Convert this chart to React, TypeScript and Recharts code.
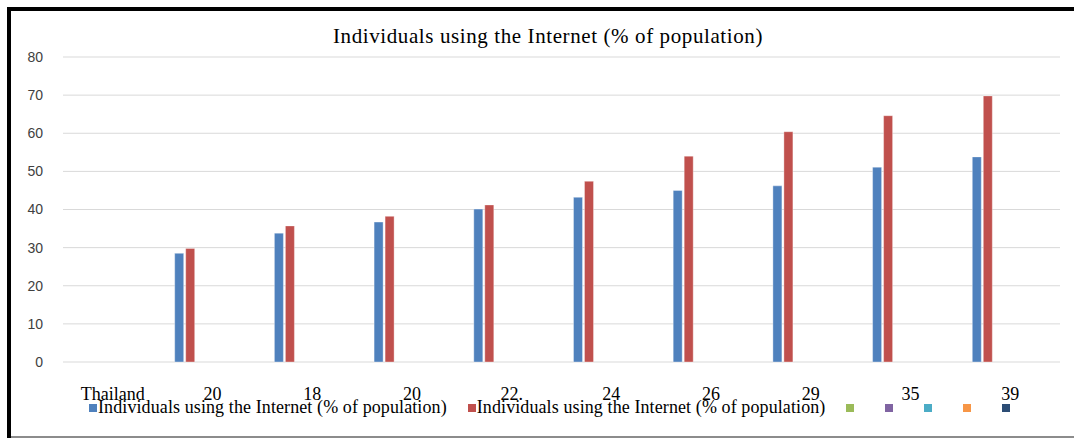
import { BarChart, Bar, XAxis, YAxis, CartesianGrid, Legend } from "recharts";

const categories = ["Thailand", "20", "18", "20", "22.", "24", "26", "29", "35", "39"];

const seriesA = [null, 28.5, 33.8, 36.7, 40.1, 43.2, 45.0, 46.2, 51.1, 53.8];
const seriesB = [null, 29.8, 35.7, 38.2, 41.2, 47.4, 54.0, 60.4, 64.6, 69.8];

const seriesNames = [
  "Individuals using the Internet (% of population)",
  "Individuals using the Internet (% of population)",
  "",
  "",
  "",
  "",
  "",
];

const colors = ["#4F81BD", "#C0504D", "#9BBB59", "#8064A2", "#4BACC6", "#F79646", "#2C4D75"];

const yTicks = [0, 10, 20, 30, 40, 50, 60, 70, 80];

const chartData = categories.map((label, i) => ({
  label,
  s0: seriesA[i],
  s1: seriesB[i],
}));

const serif = "'Liberation Serif', 'Times New Roman', serif";

const LegendRow = () => (
  <div style={{ display: "flex", alignItems: "center", fontFamily: serif, fontSize: 18, color: "#000", letterSpacing: 0.1 }}>
    {seriesNames.map((name, i) => (
      <div key={i} style={{ display: "flex", alignItems: "center", marginRight: name ? 21 : 30 }}>
        <span style={{ display: "inline-block", width: 8, height: 8, background: colors[i], marginRight: 1 }} />
        {name && <span>{name}</span>}
      </div>
    ))}
  </div>
);

export default function App() {
  return (
    <div style={{ position: "absolute", left: 0, top: 0, width: 1074, height: 438, background: "#fff", overflow: "hidden" }}>
      <div style={{ position: "absolute", left: 7, top: 7, width: 4, height: 431, background: "#000" }} />
      <div style={{ position: "absolute", left: 7, top: 7, width: 1067, height: 4, background: "#000" }} />
      <div style={{ position: "absolute", left: 11, top: 436, width: 1063, height: 2, background: "#8c8c8c" }} />
      <div
        style={{
          position: "absolute",
          left: 0,
          width: 1096,
          top: 24,
          textAlign: "center",
          fontFamily: serif,
          fontSize: 21,
          letterSpacing: 0.6,
          color: "#000",
          lineHeight: "24px",
        }}
      >
        Individuals using the Internet (% of population)
      </div>
      <BarChart
        width={1074}
        height={438}
        data={chartData}
        margin={{ top: 57, right: 14, bottom: 0, left: 3 }}
        barGap={2}
        barSize={9}
        style={{ position: "absolute", left: 0, top: 0 }}
      >
        <CartesianGrid vertical={false} stroke="#d9d9d9" strokeWidth={1} />
        <XAxis
          dataKey="label"
          height={76}
          axisLine={false}
          tickLine={false}
          tickMargin={19}
          interval={0}
          tick={{ fontFamily: serif, fontSize: 18, fill: "#000" }}
        />
        <YAxis
          width={60}
          domain={[0, 80]}
          ticks={yTicks}
          axisLine={false}
          tickLine={false}
          tickMargin={14}
          tick={{ fontFamily: "'Liberation Sans', Arial, sans-serif", fontSize: 14, fill: "#404040" }}
        />
        <Legend
          verticalAlign="middle"
          align="center"
          wrapperStyle={{ top: 397, left: 89, width: 1000 }}
          content={() => <LegendRow />}
        />
        {seriesNames.map((name, i) => (
          <Bar
            key={i}
            dataKey={"s" + i}
            name={name || " "}
            fill={colors[i]}
            stroke="#ffffff"
            strokeOpacity={0.35}
            strokeWidth={1}
            isAnimationActive={false}
          />
        ))}
      </BarChart>
    </div>
  );
}
